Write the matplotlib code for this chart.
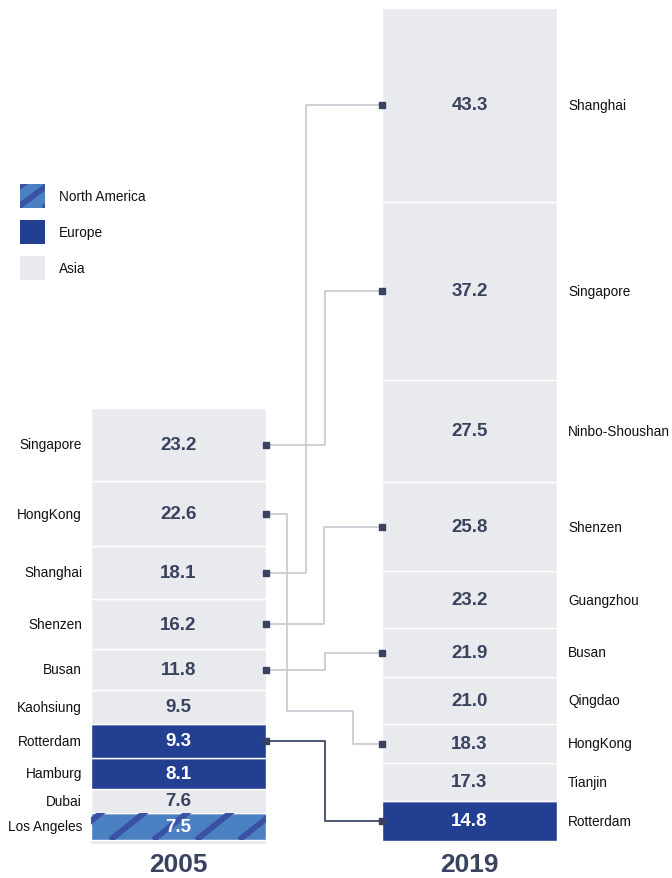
import numpy as np
import matplotlib
matplotlib.use("Agg")
import matplotlib.pyplot as plt
from matplotlib.patches import Rectangle

plt.rcParams["font.family"] = ["Liberation Sans", "DejaVu Sans"]

# --- data (top to bottom) ---
cities_2005 = ["Singapore", "HongKong", "Shanghai", "Shenzen", "Busan",
               "Kaohsiung", "Rotterdam", "Hamburg", "Dubai", "Los Angeles"]
values_2005 = [23.2, 22.6, 18.1, 16.2, 11.8, 9.5, 9.3, 8.1, 7.6, 7.5]
region_2005 = ["Asia", "Asia", "Asia", "Asia", "Asia",
               "Asia", "Europe", "Europe", "Asia", "North America"]

cities_2019 = ["Shanghai", "Singapore", "Ninbo-Shoushan", "Shenzen", "Guangzhou",
               "Busan", "Qingdao", "HongKong", "Tianjin", "Rotterdam"]
values_2019 = [43.3, 37.2, 27.5, 25.8, 23.2, 21.9, 21.0, 18.3, 17.3, 14.8]
region_2019 = ["Asia"] * 9 + ["Europe"]

legend_regions = ["North America", "Europe", "Asia"]

# block heights as drawn in the original (not proportional to values)
heights_2005 = [73, 65, 53, 50, 41, 34, 34, 31, 24, 27]
heights_2019 = [194, 178, 102, 89, 57, 49, 47, 39, 38, 40]

# connector routes: city -> x of vertical segments
routes = {"Singapore": [325], "HongKong": [287, 353], "Shanghai": [306],
          "Shenzen": [324], "Busan": [325], "Rotterdam": [325]}
hk_mid_y = 130

colors = {"Asia": "#e9eaee", "Europe": "#233f91", "North America": "#4b80c3"}
stripe_col = "#3a52a6"
text_dark = "#39435f"

fig = plt.figure(figsize=(6.72, 8.79), dpi=100)
ax = fig.add_axes([0, 0, 1, 1])
ax.set_xlim(0, 672)
ax.set_ylim(-37, 842)
ax.axis("off")

x05, x19, w = 178.5, 469.5, 175


def add_stripes(patch, x0, x1, y0, y1, pitch=43, slope=0.8, lw=4.2, offset=0):
    # diagonal stripes clipped to a patch
    span = (y1 - y0) / slope
    for s in np.arange(x0 - span - pitch + offset, x1 + pitch, pitch):
        ln, = ax.plot([s, s + span * 2], [y0, y0 + 2 * (y1 - y0)],
                      color=stripe_col, lw=lw, solid_capstyle="butt", zorder=3)
        ln.set_clip_path(patch)


def stack(xc, cities, values, regions, heights, base):
    h = np.array(heights[::-1])
    bottoms = base + np.concatenate([[0], np.cumsum(h)[:-1]])
    centers = {}
    for c, v, r, hh, b in zip(cities[::-1], values[::-1], regions[::-1], h, bottoms):
        bars = ax.bar(xc, hh, width=w, bottom=b, color=colors[r], edgecolor="white",
                      linewidth=1, zorder=2)
        if r == "North America":
            add_stripes(bars[0], xc - w / 2, xc + w / 2, b, b + hh, offset=10)
        centers[c] = b + hh / 2
        tc = text_dark if r == "Asia" else "white"
        ax.text(xc, b + hh / 2, f"{v:.1f}", ha="center", va="center",
                fontsize=13.5, fontweight="bold", color=tc, zorder=4)
    return centers


# light base behind 2005 column
ax.bar(x05, sum(heights_2005) + 4, width=w, bottom=-3, color=colors["Asia"], zorder=1)
c05 = stack(x05, cities_2005, values_2005, region_2005, heights_2005, 1)
c19 = stack(x19, cities_2019, values_2019, region_2019, heights_2019, 0)

for c in cities_2005:
    ax.text(82, c05[c], c, ha="right", va="center", fontsize=9.8, color="#111111")
for c in cities_2019:
    ax.text(568, c19[c], c, ha="left", va="center", fontsize=9.8, color="#111111")

xl, xr = x05 + w / 2, x19 - w / 2
for c, xs in routes.items():
    y0, y1 = c05[c], c19[c]
    if len(xs) == 1:
        px = [xl, xs[0], xs[0], xr]
        py = [y0, y0, y1, y1]
    else:
        px = [xl, xs[0], xs[0], xs[1], xs[1], xr]
        py = [y0, y0, hk_mid_y, hk_mid_y, y1, y1]
    dark = c == "Rotterdam"
    ax.plot(px, py, color="#3d4866" if dark else "#cbccd5", lw=1.3, zorder=1)
    ax.plot([xl, xr], [y0, y1], ls="none", marker="s", ms=5 if dark else 4,
            color=text_dark, zorder=5)

ax.text(x05, -23, "2005", ha="center", va="center", fontsize=19,
        fontweight="bold", color=text_dark)
ax.text(x19, -23, "2019", ha="center", va="center", fontsize=19,
        fontweight="bold", color=text_dark)

# legend
for i, r in enumerate(legend_regions):
    top = 657 - i * 36
    rect = Rectangle((20, top - 24), 25, 24, facecolor=colors[r], lw=0, zorder=2)
    ax.add_patch(rect)
    if r == "North America":
        add_stripes(rect, 20, 45, top - 24, top, pitch=26, slope=0.75, lw=4.2, offset=3)
    ax.text(59, top - 12, r, ha="left", va="center", fontsize=9.8, color="#111111")

fig.savefig("out.png", dpi=100)
